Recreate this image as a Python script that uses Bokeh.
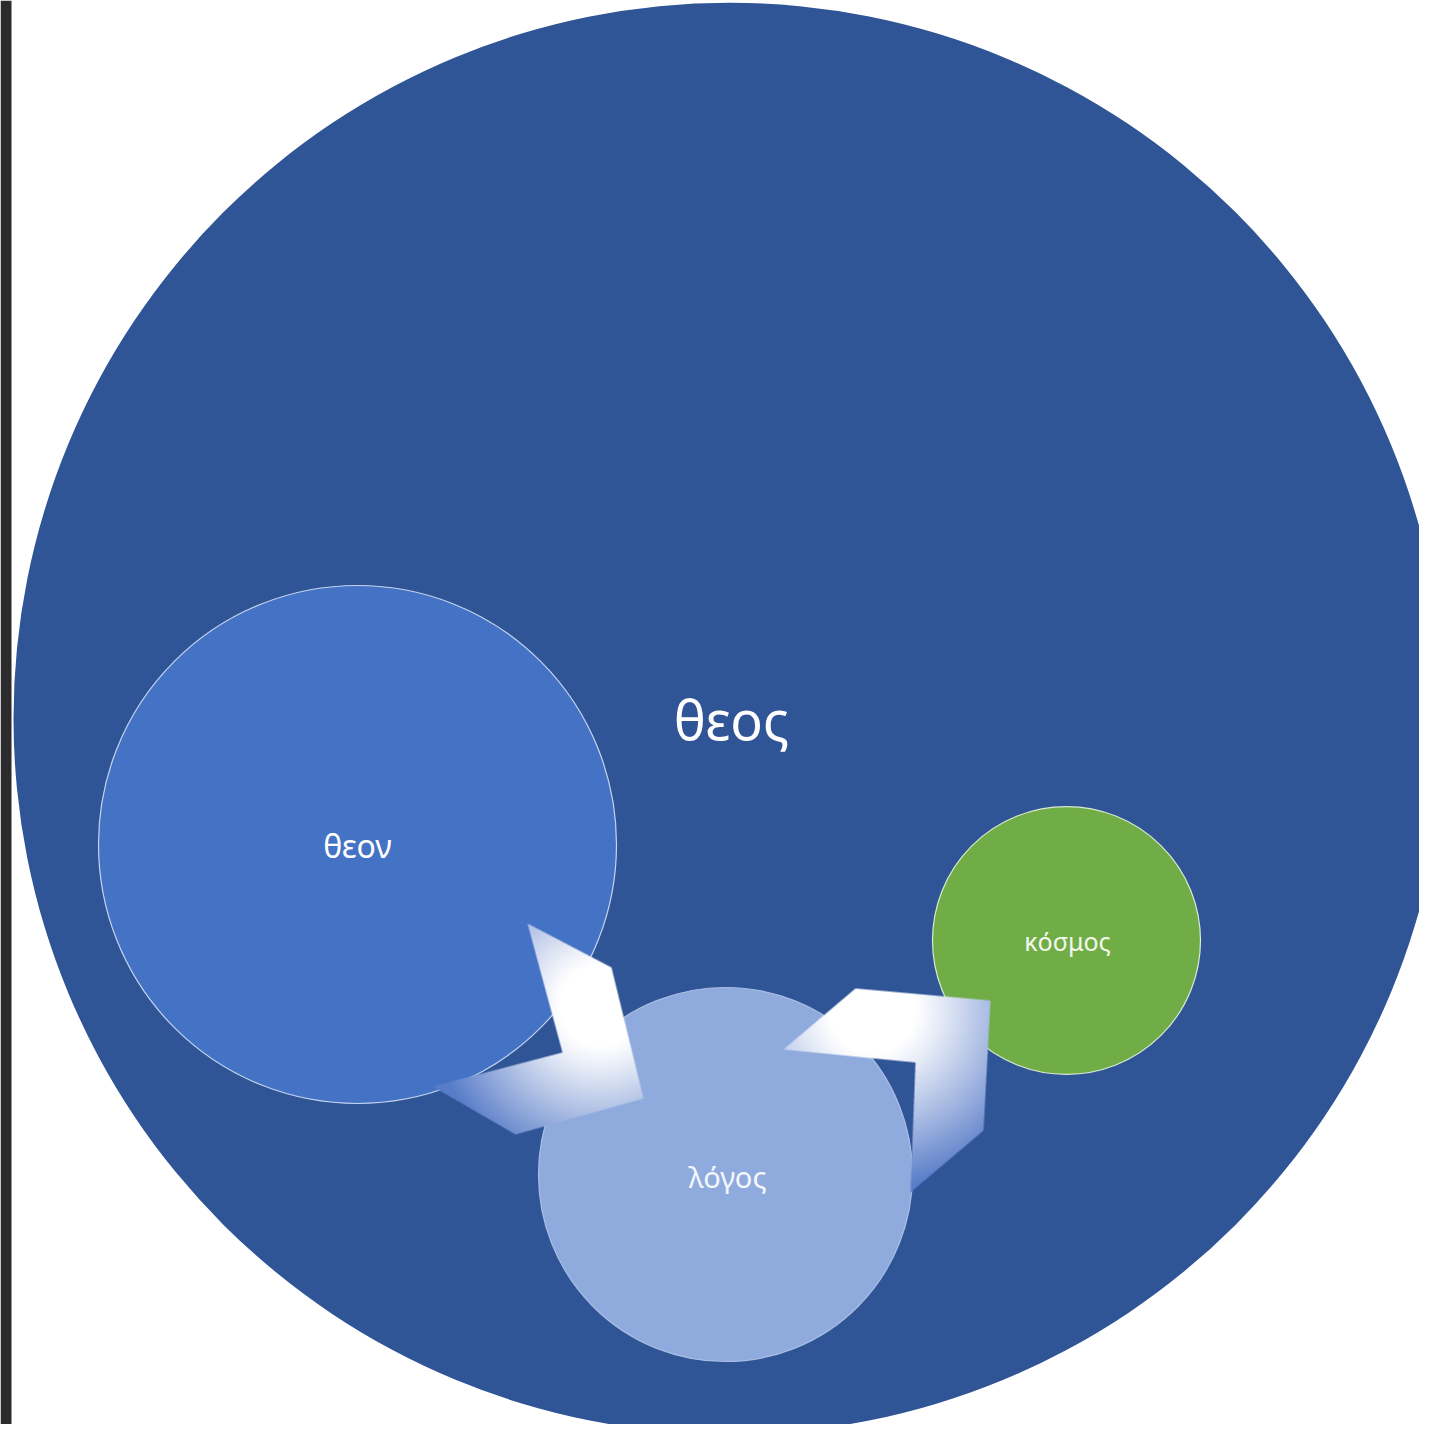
import numpy as np
from bokeh.plotting import figure
from bokeh.models import Range1d
from bokeh.core.properties import value
from bokeh.embed import file_html
from bokeh.resources import INLINE

# ---- data (reference pixel coordinates, y measured downward) ----
circle_names = ["θεος", "θεον", "λόγος", "κόσμος"]
circle_x = [729, 357, 725, 1066]
circle_y = [718, 844, 1174, 940]
circle_r = [716, 259, 187, 134]
circle_fill = ["#2F5597", "#4472C4", "#8FAADC", "#70AD47"]
circle_line = [None, "#c5d4ee", "#a9bde4", "#dbe9cf"]

label_text = ["θεος", "θεον", "κόσμος", "λόγος"]
label_x = [731, 357, 1067, 727]
label_y = [718, 845, 940, 1176]
label_size = ["54px", "32px", "25px", "29px"]
label_color = ["#ffffff", "#ffffff", "#f4f8ec", "#f4f7fc"]

arrow_left_x = [527, 611, 643, 515, 432, 562]
arrow_left_y = [923, 967, 1098, 1134, 1086, 1052]
arrow_left_center = (600, 1005)
arrow_right_x = [783, 855, 990, 983, 910, 915]
arrow_right_y = [1049, 988, 1000, 1130, 1192, 1062]
arrow_right_center = (872, 1010)

W, HH = 1419, 1424
H = 1440  # flip reference y to data Y

p = figure(width=W, height=HH, output_backend="svg", toolbar_location=None,
           x_range=Range1d(0, W), y_range=Range1d(H - HH, H),
           min_border=0, background_fill_color="white", border_fill_color="white")
p.axis.visible = False
p.grid.visible = False
p.outline_line_color = None

# dark strip on the left edge
p.quad(left=[0], right=[11], bottom=[0], top=[H], fill_color="#2b2b2d", line_color=None)

for i in range(len(circle_names)):
    kw = dict(fill_color=circle_fill[i])
    if circle_line[i] is None:
        kw["line_color"] = None
    else:
        kw["line_color"] = circle_line[i]
        kw["line_width"] = 1.2
    p.circle(x=[circle_x[i]], y=[H - circle_y[i]], radius=circle_r[i], **kw)


def gradient_arrow(xs, ys, center, radius, blue=(88, 124, 200)):
    X = np.array(xs, float)
    Y = H - np.array(ys, float)
    cx, cy = center[0], H - center[1]
    x0, x1 = int(np.floor(X.min())) - 1, int(np.ceil(X.max())) + 1
    y0, y1 = int(np.floor(Y.min())) - 1, int(np.ceil(Y.max())) + 1
    w, h = x1 - x0, y1 - y0
    ss = 4
    sub = (np.arange(ss) + 0.5) / ss
    gx = x0 + (np.arange(w)[:, None] + sub[None, :]).ravel()
    gy = y0 + (np.arange(h)[:, None] + sub[None, :]).ravel()
    PX, PY = np.meshgrid(gx, gy)
    inside = np.zeros(PX.shape, bool)
    n = len(X)
    for k in range(n):
        xi, yi = X[k], Y[k]
        xj, yj = X[(k + 1) % n], Y[(k + 1) % n]
        cond = ((yi > PY) != (yj > PY)) & (PX < (xj - xi) * (PY - yi) / (yj - yi + 1e-12) + xi)
        inside ^= cond
    cov = inside.reshape(h, ss, w, ss).mean(axis=(1, 3))
    px = x0 + np.arange(w) + 0.5
    py = y0 + np.arange(h) + 0.5
    PXc, PYc = np.meshgrid(px, py)
    d = np.hypot(PXc - cx, PYc - cy) / radius
    s = np.clip((d - 0.22) / 0.7, 0, 1) ** 1.1
    img = np.zeros((h, w, 4), dtype=np.uint8)
    for c in range(3):
        img[..., c] = np.round(255 * (1 - s) + blue[c] * s).astype(np.uint8)
    img[..., 3] = np.round(255 * cov).astype(np.uint8)
    flat = img.view(dtype=np.uint32).reshape((h, w))
    p.image_rgba(image=[flat], x=x0, y=y0, dw=w, dh=h)


gradient_arrow(arrow_left_x, arrow_left_y, arrow_left_center, 185)
gradient_arrow(arrow_right_x, arrow_right_y, arrow_right_center, 195)

for i in range(len(label_text)):
    p.text(x=[label_x[i]], y=[H - label_y[i]], text=[label_text[i]],
           text_font=value("Noto Sans"), text_font_size=label_size[i],
           text_color=label_color[i], text_align="center", text_baseline="middle")

open("out.html", "w").write(file_html(p, INLINE))
